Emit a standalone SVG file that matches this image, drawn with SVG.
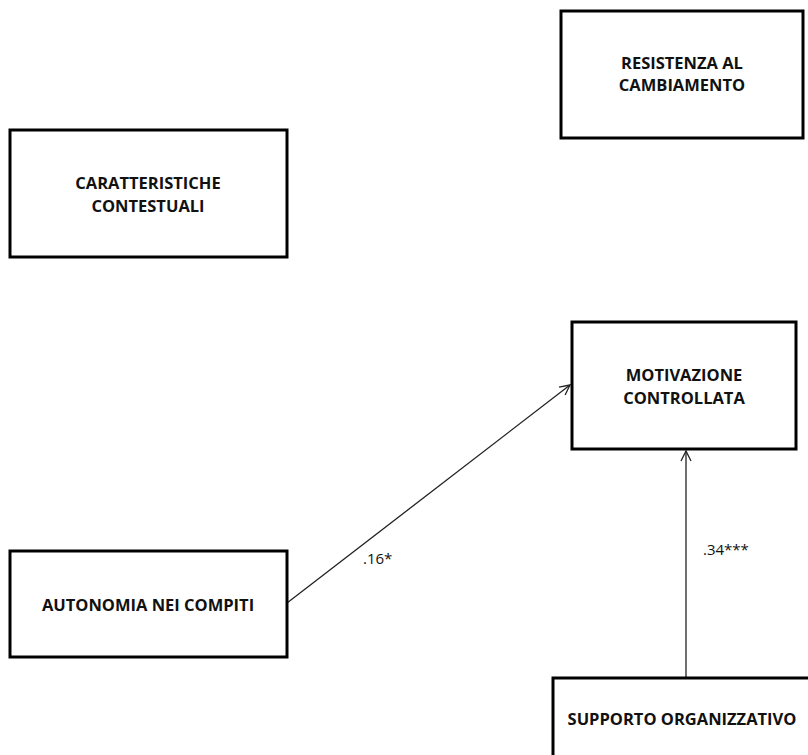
<svg xmlns="http://www.w3.org/2000/svg" width="808" height="755" viewBox="0 0 808 755">
  <defs>
    <style>
      .box { fill: #ffffff; stroke: #000000; stroke-width: 3; }
      .lbl { font-family: "Open Sans", "Liberation Sans", sans-serif; font-weight: 700; font-size: 16.5px; fill: #111111; text-anchor: middle; }
      .coef { font-family: "Open Sans", "Liberation Sans", sans-serif; font-size: 15px; fill: #111111; }
      .edge { stroke: #222222; stroke-width: 1.3; fill: none; marker-end: url(#open); }
    </style>
    <marker id="open" viewBox="0 0 12 12" refX="11" refY="6" markerWidth="12" markerHeight="12" markerUnits="userSpaceOnUse" orient="auto">
      <path d="M1,1 L11,6 L1,11" fill="none" stroke="#222222" stroke-width="1.3"/>
    </marker>
  </defs>
  <rect width="808" height="755" fill="#ffffff"/>

  <g id="connectors">
    <line class="edge" x1="287" y1="603" x2="570" y2="385"/>
    <line class="edge" x1="686" y1="678" x2="686" y2="451"/>
    <text class="coef" x="363" y="564">.16*</text>
    <text class="coef" x="703" y="555">.34***</text>
  </g>

  <g id="resistenza">
    <rect class="box" x="561" y="11" width="242" height="127"/>
    <text class="lbl" x="682" y="69">RESISTENZA AL</text>
    <text class="lbl" x="682" y="91">CAMBIAMENTO</text>
  </g>

  <g id="caratteristiche">
    <rect class="box" x="10" y="130" width="277" height="127"/>
    <text class="lbl" x="148" y="189">CARATTERISTICHE</text>
    <text class="lbl" x="148" y="212">CONTESTUALI</text>
  </g>

  <g id="motivazione">
    <rect class="box" x="572" y="322" width="224" height="127"/>
    <text class="lbl" x="684" y="381">MOTIVAZIONE</text>
    <text class="lbl" x="684" y="404">CONTROLLATA</text>
  </g>

  <g id="autonomia">
    <rect class="box" x="10" y="551" width="277" height="106"/>
    <text class="lbl" x="148" y="611">AUTONOMIA NEI COMPITI</text>
  </g>

  <g id="supporto">
    <rect class="box" x="553" y="678" width="260" height="90"/>
    <text class="lbl" x="682" y="725">SUPPORTO ORGANIZZATIVO</text>
  </g>
</svg>
